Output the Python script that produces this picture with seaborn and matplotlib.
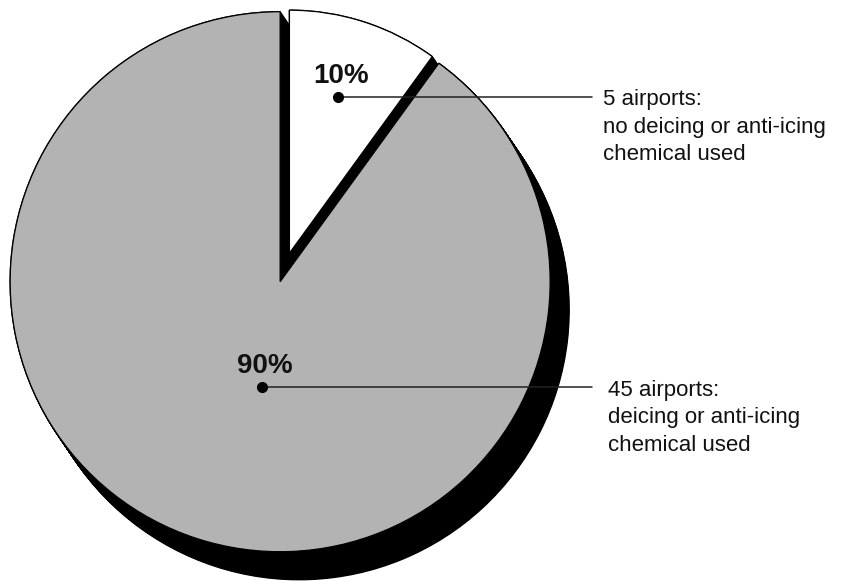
import numpy as np
import matplotlib
matplotlib.use("Agg")
import matplotlib.pyplot as plt
import seaborn as sns

# ---- data ----
shares = [10, 90]
pct_labels = ["10%", "90%"]
desc_lines = [
    ["5 airports:", "no deicing or anti-icing", "chemical used"],
    ["45 airports:", "deicing or anti-icing", "chemical used"],
]
slice_colors = ["#ffffff", "#b3b3b3"]

# ---- layout (pixels) ----
W, H = 857, 581
sns.set_theme(style="white")
plt.rcParams["font.family"] = ["Liberation Sans", "DejaVu Sans"]

fig = plt.figure(figsize=(W / 100, H / 100), dpi=100)
ax = fig.add_axes([0, 0, 1, 1])

cx, cy = 282, H - 276
radii = [243, 270]
explode_px = [24, 6]
depth = (19, -28)


def draw_slice(idx, color, offset, edgecolor, lw, z):
    r = radii[idx]
    ex = [0.0, 0.0]
    ex[idx] = explode_px[idx]  # explode is in data units (pixels here)
    cols = ["none", "none"]
    cols[idx] = color
    wedges, _ = ax.pie(
        shares, explode=ex, colors=cols, startangle=90, counterclock=False,
        center=(cx + offset[0], cy + offset[1]), radius=r,
        wedgeprops=dict(edgecolor=edgecolor, linewidth=lw),
    )
    wedges[1 - idx].set_visible(False)
    for w in wedges:
        w.set_zorder(z)


# extruded black side (depth)
for t in np.linspace(0, 1, 40):
    for idx in range(2):
        draw_slice(idx, "black", (t * depth[0], t * depth[1]), "black", 1.0, 1)

# top faces
for idx in range(2):
    draw_slice(idx, slice_colors[idx], (0, 0), "black", 0.9, 3)

# percent labels, dots and leader lines
pct_pos = [(313, 83), (237, 373)]
dot_pos = [(338, 97), (262, 387)]
line_end = 592
text_x = [603, 608]
text_base = [105, 396]
line_gap = 27.5

for i in range(2):
    px, py = pct_pos[i]
    ax.text(px, H - py, pct_labels[i], fontsize=20, fontweight="bold",
            ha="left", va="baseline", color="#111111", zorder=5)
    dx, dy = dot_pos[i]
    ax.plot([dx, line_end], [H - dy, H - dy], color="#222222", lw=1.1, zorder=4)
    ax.plot([dx], [H - dy], "o", color="black", markersize=7, zorder=5)
    for j, line in enumerate(desc_lines[i]):
        ax.text(text_x[i], H - (text_base[i] + j * line_gap), line, fontsize=16,
                ha="left", va="baseline", color="#111111", zorder=5)

ax.set_xlim(0, W)
ax.set_ylim(0, H)
ax.set_aspect("equal")
ax.axis("off")
fig.savefig("out.png", dpi=100)
